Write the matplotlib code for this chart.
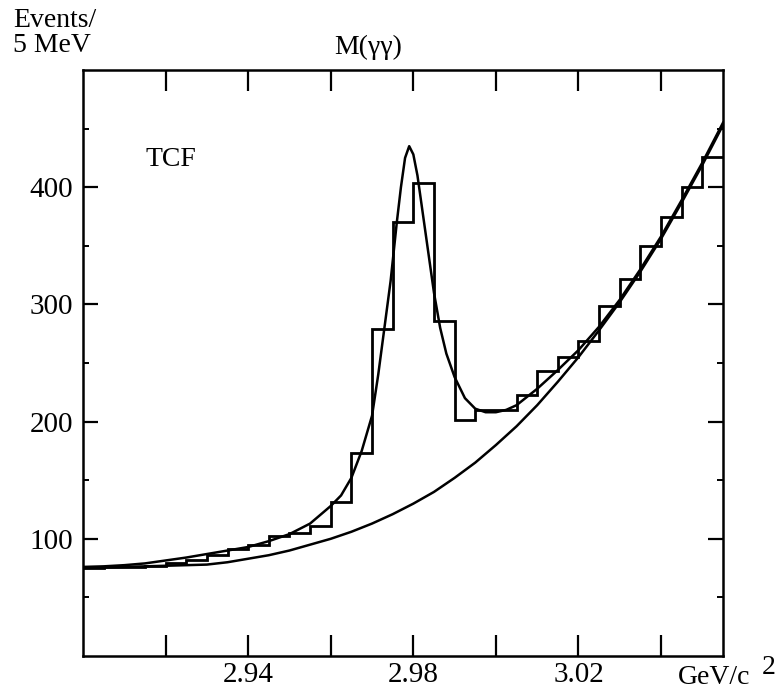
import matplotlib
matplotlib.use('Agg')
import matplotlib.pyplot as plt
import numpy as np

plt.rcParams['font.family'] = ['Liberation Serif', 'DejaVu Serif']

# histogram: events per 5 MeV bin, bins start at 2.900 GeV
bin_lo = 2.900
bin_w = 0.005
counts = [75, 76, 76, 77, 79, 82, 86, 91, 95, 102, 105, 111, 131, 173,
          279, 370, 404, 286, 201, 210, 210, 223, 243, 255, 269, 299,
          322, 350, 375, 400, 426]

# full fit (signal + background)
fit_m = [2.900, 2.905, 2.910, 2.915, 2.920, 2.925, 2.930, 2.935, 2.940, 2.945,
         2.950, 2.955, 2.960, 2.9625, 2.965, 2.9675, 2.970, 2.9715, 2.973,
         2.9745, 2.976, 2.977, 2.978, 2.979, 2.980, 2.981, 2.982, 2.983,
         2.984, 2.985, 2.9865, 2.988, 2.990, 2.9925, 2.995, 2.9975, 3.000,
         3.0025, 3.005, 3.010, 3.015, 3.020, 3.025, 3.030, 3.035, 3.040,
         3.045, 3.050, 3.055]
fit_n = [76, 76.5, 77.5, 79, 81.5, 84, 87, 90, 93, 98,
         104, 113, 128, 137, 152, 175, 205, 240, 280,
         320, 370, 400, 425, 435, 428, 410, 385, 360,
         335, 310, 280, 258, 238, 220, 211, 208, 208,
         210, 214, 228, 244, 261, 281, 304, 330, 358,
         389, 421, 455]

# background only
bg_m = [2.900, 2.905, 2.910, 2.915, 2.920, 2.925, 2.930, 2.935, 2.940, 2.945,
        2.950, 2.955, 2.960, 2.965, 2.970, 2.975, 2.980, 2.985, 2.990, 2.995,
        3.000, 3.005, 3.010, 3.015, 3.020, 3.025, 3.030, 3.035, 3.040, 3.045,
        3.050, 3.055]
bg_n = [75, 75.5, 76, 76.5, 77, 77.5, 78, 80, 83, 86,
        90, 95, 100, 106, 113, 121, 130, 140, 152, 165,
        180, 196, 214, 234, 255, 278, 302, 328, 356, 387,
        419, 453]

xticks = [2.92, 2.94, 2.96, 2.98, 3.00, 3.02, 3.04]
xlabels = ['', '2.94', '', '2.98', '', '3.02', '']
yticks = [100, 200, 300, 400]

fig = plt.figure(figsize=(7.79, 6.92), dpi=100)
ax = fig.add_axes([83/779, 1-656/692, 640/779, 586/692])

edges = bin_lo + bin_w*np.arange(len(counts)+1)
ax.stairs(counts, edges, baseline=None, color='black', lw=2.0)
ax.plot(fit_m, fit_n, color='black', lw=1.8)
ax.plot(bg_m, bg_n, color='black', lw=1.8)

ax.set_xlim(2.900, 3.055)
ax.set_ylim(0, 500)
ax.set_xticks(xticks)
ax.set_xticklabels(xlabels)
ax.set_yticks(yticks)
ax.set_yticks([50, 150, 250, 350, 450], minor=True)
ax.tick_params(axis='x', which='major', direction='in', length=15, width=1.6,
               top=True, labelsize=21, pad=4)
ax.tick_params(axis='y', which='major', direction='in', length=11, width=1.6,
               right=True, labelsize=21, pad=7)
ax.tick_params(axis='y', which='minor', direction='in', length=4, width=1.4,
               right=True)
for s in ax.spines.values():
    s.set_linewidth(1.8)

ax.text(171/779, 1-159/692, 'TCF', transform=fig.transFigure, fontsize=20,
        ha='center', va='center')
fig.text(368/779, 1-47/692, 'M(γγ)', fontsize=20, ha='center', va='center')
fig.text(13/779, 1-8/692, 'Events/\n5 MeV', fontsize=20, ha='left', va='top',
         linespacing=1.0)
fig.text(678/779, 1-684/692, 'GeV/c', fontsize=20, ha='left', va='baseline')
fig.text(762/779, 1-674/692, '2', fontsize=20, ha='left', va='baseline')

fig.savefig('out.png', dpi=100)
